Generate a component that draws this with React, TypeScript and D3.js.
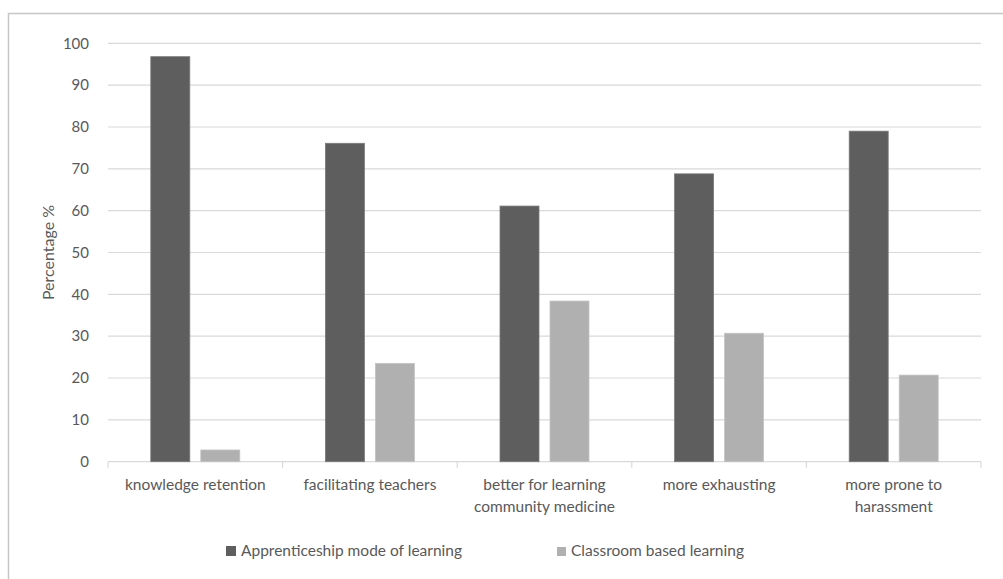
import React from "react";
import * as d3 from "d3";

const categories = [
  "knowledge retention",
  "facilitating teachers",
  "better for learning community medicine",
  "more exhausting",
  "more prone to harassment",
];
const categoryLines = [
  ["knowledge retention"],
  ["facilitating teachers"],
  ["better for learning", "community medicine"],
  ["more exhausting"],
  ["more prone  to", "harassment"],
];
const seriesNames = ["Apprenticeship mode of learning", "Classroom based learning"];
const apprenticeship = [96.8, 76.1, 61.1, 68.8, 79.0];
const classroom = [2.8, 23.5, 38.4, 30.7, 20.7];
const yTicks = [0, 10, 20, 30, 40, 50, 60, 70, 80, 90, 100];
const colors = ["#5e5e5e", "#b0b0b0"];

const FONT = "Lato, 'Open Sans', sans-serif";
const TEXT = "#595959";

export default function App() {
  const W = 1003, H = 579;
  const left = 108, right = 981, top = 43.3, bottom = 461.7;
  const y = d3.scaleLinear().domain([0, 100]).range([bottom, top]);
  const x0 = d3.scaleBand<string>().domain(categories).range([left, right]).paddingInner(0).paddingOuter(0);
  const x1 = d3
    .scaleBand<string>()
    .domain(seriesNames)
    .range([0, x0.bandwidth()])
    .paddingInner(0.22)
    .paddingOuter(0.856);
  const values = [apprenticeship, classroom];

  return (
    <svg width={W} height={H} style={{ position: "absolute", left: 0, top: 0 }} fontFamily={FONT}>
      <rect x={0} y={0} width={W} height={H} fill="#fff" />
      <rect x={8.5} y={13.5} width={1100} height={700} fill="none" stroke="#c6c6c6" strokeWidth={1.5} />
      {/* gridlines */}
      {yTicks.map((t) => (
        <g key={t}>
          <line x1={left} x2={right} y1={y(t)} y2={y(t)} stroke="#d9d9d9" strokeWidth={1.2} />
          <text x={89} y={y(t)} dy="0.35em" textAnchor="end" fontSize={15} fill={TEXT}>
            {t}
          </text>
        </g>
      ))}
      {/* x tick marks */}
      {categories.map((c) => (
        <line key={c} x1={x0(c)!} x2={x0(c)!} y1={bottom} y2={bottom + 6} stroke="#d9d9d9" strokeWidth={1.2} />
      ))}
      <line x1={right} x2={right} y1={bottom} y2={bottom + 6} stroke="#d9d9d9" strokeWidth={1.2} />
      {/* bars */}
      {categories.map((c, i) => (
        <g key={c} transform={`translate(${x0(c)},0)`}>
          {seriesNames.map((s, j) => (
            <rect
              key={s}
              x={x1(s)!}
              y={y(values[j][i])}
              width={x1.bandwidth()}
              height={bottom - y(values[j][i])}
              fill={colors[j]}
              stroke={j === 0 ? "#7a7a7a" : "#c4c4c4"}
              strokeWidth={0.8}
            />
          ))}
        </g>
      ))}
      {/* category labels */}
      {categories.map((c, i) => (
        <text key={c} x={x0(c)! + x0.bandwidth() / 2} y={490} textAnchor="middle" fontSize={15.5} fill={TEXT}>
          {categoryLines[i].map((ln, k) => (
            <tspan key={k} x={x0(c)! + x0.bandwidth() / 2} dy={k === 0 ? 0 : 21.5}>
              {ln}
            </tspan>
          ))}
        </text>
      ))}
      {/* y axis title */}
      <text transform={`translate(54,${(top + bottom) / 2}) rotate(-90)`} textAnchor="middle" fontSize={16} fill={TEXT}>
        Percentage %
      </text>
      {/* legend */}
      <rect x={226} y={546} width={10} height={10} fill={colors[0]} />
      <text x={241} y={556} fontSize={15.5} fill={TEXT}>
        {seriesNames[0]}
      </text>
      <rect x={557} y={547} width={9} height={9} fill={colors[1]} />
      <text x={571} y={556} fontSize={15.5} fill={TEXT}>
        {seriesNames[1]}
      </text>
    </svg>
  );
}
